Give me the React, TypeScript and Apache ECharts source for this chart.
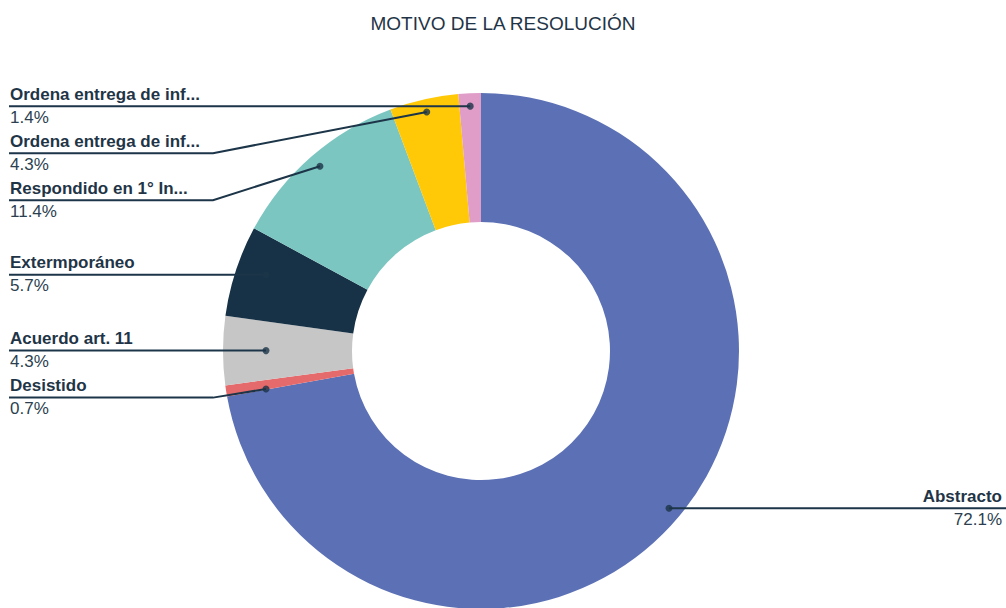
import React, { useEffect, useRef } from 'react';
import * as echarts from 'echarts';

const titleText = 'MOTIVO DE LA RESOLUCIÓN';
const categories = [
  'Abstracto',
  'Desistido',
  'Acuerdo art. 11',
  'Extermporáneo',
  'Respondido en 1° In...',
  'Ordena entrega de inf...',
  'Ordena entrega de inf...',
];
const values = [72.1, 0.7, 4.3, 5.7, 11.4, 4.3, 1.4];
const colors = ['#5C71B5', '#E46A6B', '#C6C6C6', '#173246', '#7CC6C2', '#FFC907', '#E09DC8'];

const W = 1006;
const H = 608;
const CX = 481;
const CY = 351;
const R_OUT = 258;
const R_IN = 129;
const DOT_R = 0.95 * R_OUT;
const DOT_MAX_DX = 215;
const EDGE = 9;
const ELBOW_GAP = 10;
const LABEL_GAP = 47;
const NAME_LH = 24;
const PCT_LH = 22;
const FONT = '"Liberation Sans", Arial, sans-serif';
const TEXT_COLOR = '#1F3547';
const PCT_COLOR = '#2B3F50';
const LINE_COLOR = '#1C3548';

function computeLayout() {
  const total = values.reduce((a, b) => a + b, 0);
  let cum = 0;
  const items = values.map((v, i) => {
    const mid = cum + v / 2;
    cum += v;
    const th = (mid / total) * 2 * Math.PI;
    let ox = DOT_R * Math.sin(th);
    const oy = -DOT_R * Math.cos(th);
    ox = Math.max(-DOT_MAX_DX, Math.min(DOT_MAX_DX, ox));
    const r = Math.hypot(ox, oy);
    let ang = Math.atan2(ox, -oy);
    if (ang < 0) ang += 2 * Math.PI;
    const angVal = (ang / (2 * Math.PI)) * total;
    return { i, r, angVal, dx: CX + ox, dy: CY + oy, left: ox < 0, ly: CY + oy };
  });
  for (const side of [true, false]) {
    const group = items.filter((it) => it.left === side).sort((a, b) => a.dy - b.dy);
    let prev = -Infinity;
    for (const it of group) {
      it.ly = Math.max(it.dy, prev + LABEL_GAP);
      prev = it.ly;
    }
  }
  return { total, items };
}

export default function App() {
  const ref = useRef<HTMLDivElement>(null);
  useEffect(() => {
    document.body.style.margin = '0';
    if (!ref.current) return;
    const chart = echarts.init(ref.current, undefined, { renderer: 'svg' });
    const layout = computeLayout();
    const pieData = categories.map((name, i) => ({
      name,
      value: values[i],
      itemStyle: { color: colors[i] },
    }));
    const option: any = {
      animation: false,
      backgroundColor: '#FFFFFF',
      title: {
        text: titleText,
        left: 'center',
        top: 9,
        textStyle: { fontSize: 19, fontWeight: 'normal', color: TEXT_COLOR, fontFamily: FONT },
      },
      polar: { center: [CX, CY], radius: R_OUT },
      angleAxis: { type: 'value', min: 0, max: layout.total, startAngle: 90, clockwise: true, show: false },
      radiusAxis: { type: 'value', min: 0, max: R_OUT, show: false },
      series: [
        {
          type: 'pie',
          z: 2,
          center: [CX, CY],
          radius: [R_IN, R_OUT],
          startAngle: 90,
          clockwise: true,
          silent: true,
          data: pieData,
          label: { show: false },
          labelLine: { show: false },
          emphasis: { disabled: true },
        },
        {
          type: 'pie',
          z: 3,
          center: [CX, CY],
          radius: [R_IN, R_OUT],
          startAngle: 90,
          clockwise: true,
          silent: true,
          avoidLabelOverlap: false,
          data: categories.map((name, i) => ({
            name,
            value: values[i],
            itemStyle: { color: 'rgba(0,0,0,0)' },
          })),
          label: {
            show: true,
            position: 'outer',
            formatter: (p: any) => `{n|${p.name}}\n{p|${values[p.dataIndex].toFixed(1)}%}`,
            rich: {
              n: { fontSize: 17, fontWeight: 'bold', color: TEXT_COLOR, lineHeight: NAME_LH, fontFamily: FONT },
              p: { fontSize: 17, color: PCT_COLOR, lineHeight: PCT_LH, fontFamily: FONT },
            },
          },
          labelLine: { show: true, lineStyle: { color: LINE_COLOR, width: 2 } },
          labelLayout: (params: any) => {
            const it = layout.items[params.dataIndex];
            if (!it) return {};
            if (it.left) {
              return {
                x: EDGE + 1,
                y: it.ly - NAME_LH,
                align: 'left',
                verticalAlign: 'top',
                labelLinePoints: [
                  [it.dx, it.dy],
                  [CX - R_OUT - ELBOW_GAP, it.ly],
                  [EDGE, it.ly],
                ],
              };
            }
            return {
              x: W - 4,
              y: it.ly - NAME_LH,
              align: 'right',
              verticalAlign: 'top',
              labelLinePoints: [
                [it.dx, it.dy],
                [CX + R_OUT + ELBOW_GAP, it.ly],
                [W, it.ly],
              ],
            };
          },
          emphasis: { disabled: true },
        },
        {
          type: 'scatter',
          coordinateSystem: 'polar',
          data: layout.items.map((it) => [it.r, it.angVal]),
          symbolSize: 7,
          itemStyle: { color: LINE_COLOR },
          silent: true,
          z: 10,
        },
      ],
    };
    chart.setOption(option);
    return () => chart.dispose();
  }, []);
  return <div ref={ref} style={{ width: W, height: H }} />;
}
